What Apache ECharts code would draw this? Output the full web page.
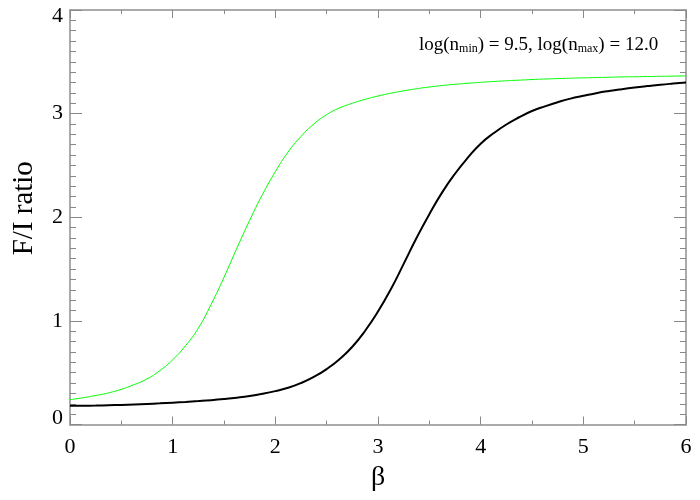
<!DOCTYPE html>
<html>
<head>
<meta charset="utf-8">
<script src="https://cdn.jsdelivr.net/npm/echarts@6/dist/echarts.min.js"></script>
<style>html,body{margin:0;padding:0;background:#fff;}#c{width:700px;height:500px;}</style>
</head>
<body>
<div id="c"></div>
<script>
var betaValues = [0, 0.125, 0.25, 0.375, 0.5, 0.625, 0.75, 0.875, 1, 1.125, 1.25, 1.375, 1.5, 1.625, 1.75, 1.875,
  2, 2.125, 2.25, 2.375, 2.5, 2.625, 2.75, 2.875, 3, 3.125, 3.25, 3.375, 3.5, 3.625, 3.75, 3.875,
  4, 4.125, 4.25, 4.375, 4.5, 4.625, 4.75, 4.875, 5, 5.125, 5.25, 5.375, 5.5, 5.625, 5.75, 5.875, 6];
var greenRatio = [0.24, 0.258, 0.28, 0.305, 0.34, 0.385, 0.44, 0.52, 0.625, 0.76, 0.93, 1.16, 1.42, 1.70, 1.97, 2.22,
  2.44, 2.63, 2.78, 2.90, 2.99, 3.055, 3.10, 3.138, 3.17, 3.197, 3.22, 3.24, 3.257, 3.271, 3.283, 3.293,
  3.302, 3.31, 3.317, 3.323, 3.329, 3.334, 3.338, 3.342, 3.345, 3.348, 3.351, 3.354, 3.356, 3.358, 3.36, 3.362, 3.364];
var blackRatio = [0.18, 0.181, 0.183, 0.186, 0.189, 0.193, 0.198, 0.204, 0.211, 0.218, 0.226, 0.235, 0.246, 0.259, 0.275, 0.296,
  0.322, 0.354, 0.40, 0.46, 0.535, 0.63, 0.75, 0.905, 1.09, 1.305, 1.55, 1.80, 2.03, 2.24, 2.42, 2.575,
  2.71, 2.81, 2.895, 2.965, 3.025, 3.07, 3.11, 3.145, 3.172, 3.197, 3.218, 3.236, 3.252, 3.266, 3.279, 3.29, 3.30];
var xTicks = [0, 1, 2, 3, 4, 5, 6];
var yTicks = [0, 1, 2, 3, 4];
var annotation = ['log(n', 'min', ') = 9.5, log(n', 'max', ') = 12.0'];

function pairs(xs, ys) { return xs.map(function (x, i) { return [x, ys[i]]; }); }

var FONT = 'Liberation Serif';
var axisLineStyle = { color: '#aaa', width: 2 };
var tickStyle = { color: '#888', width: 1 };

function xAxisCfg(pos, showLabel) {
  return {
    type: 'value', position: pos, min: xTicks[0], max: xTicks[xTicks.length - 1], interval: 1,
    axisLine: { show: true, onZero: false, lineStyle: axisLineStyle },
    axisTick: { show: true, inside: true, length: 8, lineStyle: tickStyle },
    minorTick: { show: true, splitNumber: 2, length: 4, lineStyle: tickStyle },
    splitLine: { show: false },
    axisLabel: { show: showLabel, color: '#000', fontFamily: FONT, fontSize: 22, margin: 12 },
    name: showLabel ? 'β' : '', nameLocation: 'middle', nameGap: 33,
    nameTextStyle: { color: '#000', fontFamily: FONT, fontSize: 28 }
  };
}
function yAxisCfg(pos, showLabel) {
  return {
    type: 'value', position: pos, min: yTicks[0], max: yTicks[yTicks.length - 1], interval: 1,
    axisLine: { show: true, onZero: false, lineStyle: axisLineStyle },
    axisTick: { show: true, inside: true, length: 12, lineStyle: tickStyle },
    minorTick: { show: true, splitNumber: 10, length: 6, lineStyle: tickStyle },
    splitLine: { show: false },
    axisLabel: { show: showLabel, color: '#000', fontFamily: FONT, fontSize: 22, margin: 7, lineHeight: 13,
      verticalAlignMinLabel: 'bottom', verticalAlignMaxLabel: 'top' },
    name: showLabel ? 'F/I ratio' : '', nameLocation: 'middle', nameGap: 31,
    nameTextStyle: { color: '#000', fontFamily: FONT, fontSize: 29, padding: [0, 0, 0, 18] }
  };
}

var chart = echarts.init(document.getElementById('c'), null, { renderer: 'canvas' });
chart.setOption({
  backgroundColor: '#fff',
  animation: false,
  title: {
    left: 419, top: 36, padding: 0,
    text: '{a|' + annotation[0] + '}{s|' + annotation[1] + '}{a|' + annotation[2] + '}{s|' + annotation[3] + '}{a|' + annotation[4] + '}',
    textStyle: {
      fontWeight: 'normal',
      rich: {
        a: { fontFamily: FONT, fontSize: 19, fontWeight: 'normal', color: '#000' },
        s: { fontFamily: FONT, fontSize: 12, fontWeight: 'normal', color: '#000', verticalAlign: 'bottom' }
      }
    }
  },
  grid: { left: 70, right: 14, top: 10, bottom: 75.5, containLabel: false },
  xAxis: [xAxisCfg('bottom', true), xAxisCfg('top', false)],
  yAxis: [yAxisCfg('left', true), yAxisCfg('right', false)],
  series: [
    { type: 'line', data: pairs(betaValues, greenRatio), showSymbol: false, smooth: 0.5,
      lineStyle: { color: '#00ff00', width: 1 }, xAxisIndex: 0, yAxisIndex: 0 },
    { type: 'line', data: pairs(betaValues, blackRatio), showSymbol: false, smooth: 0.5,
      lineStyle: { color: '#000', width: 2 }, xAxisIndex: 0, yAxisIndex: 0 }
  ]
});
</script>
</body>
</html>
